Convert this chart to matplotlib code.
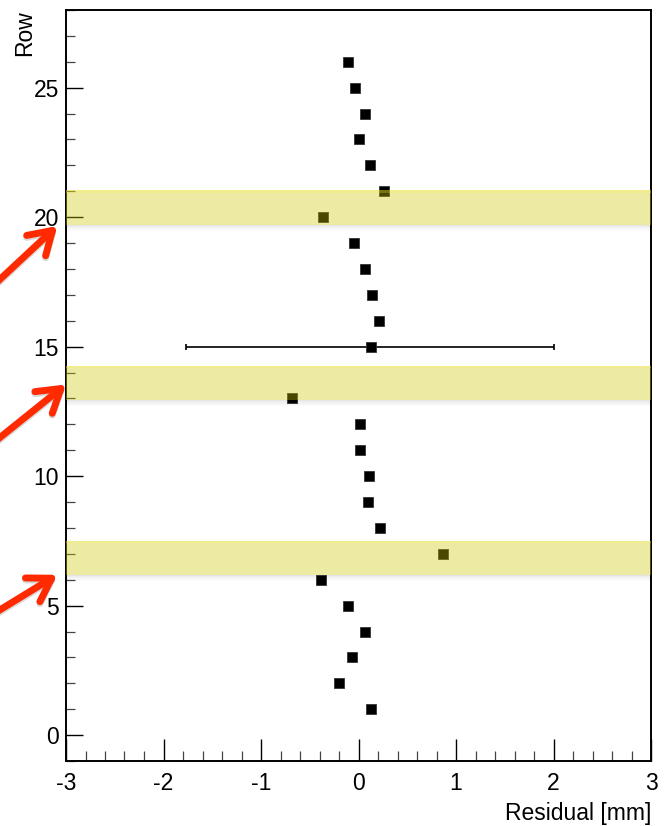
import matplotlib
matplotlib.use('Agg')
import matplotlib.pyplot as plt
from matplotlib.ticker import MultipleLocator
import matplotlib.patches as mpatches

plt.rcParams['font.family'] = ['Liberation Sans', 'DejaVu Sans']
plt.rcParams['axes.unicode_minus'] = False

# ---- data ----
rows = [26, 25, 24, 23, 22, 21, 20, 19, 18, 17, 16, 15, 13, 12, 11, 10, 9, 8, 7, 6, 5, 4, 3, 2, 1]
residuals = [-0.105, -0.036, 0.070, 0.002, 0.120, 0.260, -0.367, -0.043, 0.063, 0.141,
             0.207, 0.125, -0.686, 0.015, 0.012, 0.105, 0.097, 0.218, 0.863, -0.384,
             -0.108, 0.063, -0.067, -0.197, 0.132]
err_row = [15]
err_x = [0.125]
err_low = [1.894]
err_high = [1.880]

band_low = [19.71, 12.94, 6.19]
band_high = [21.03, 14.25, 7.51]

arrow_tip_x = [-3.09, -3.0, -3.09]
arrow_tip_y = [19.66, 13.54, 6.19]
arrow_tail_x = [-3.88, -3.88, -3.88]
arrow_tail_y = [16.89, 10.88, 4.37]

xticks = [-3, -2, -1, 0, 1, 2, 3]
yticks = [0, 5, 10, 15, 20, 25]

# ---- figure ----
W, H = 664, 826
fig = plt.figure(figsize=(W / 100, H / 100), dpi=100)
ax = fig.add_axes([66 / W, 65 / H, 585 / W, 751 / H])
ax.set_xlim(-3, 3)
ax.set_ylim(-1, 28)

ax.errorbar(err_x, err_row, xerr=[err_low, err_high], fmt='none', ecolor='black',
            elinewidth=1.2, capsize=2.5, capthick=1.2, zorder=2)
ax.plot(residuals, rows, linestyle='none', marker='s', markersize=7.2,
        markerfacecolor='black', markeredgecolor='#333333', markeredgewidth=0.6, zorder=3)

px = 1 / 25.84  # one pixel in row units
for lo, hi in zip(band_low, band_high):
    ax.add_patch(mpatches.Rectangle((-3, lo), 6, hi - lo, facecolor=(207 / 255, 200 / 255, 0),
                                    alpha=0.36, edgecolor='none', zorder=5))
    ax.add_patch(mpatches.Rectangle((-3, hi - 2 * px), 6, 2 * px, facecolor=(1, 0.95, 0.3),
                                    alpha=0.25, edgecolor='none', zorder=5))
    for k, a in enumerate([0.10, 0.07, 0.05, 0.03, 0.015]):
        ax.add_patch(mpatches.Rectangle((-3, lo - (k + 1) * 1.2 * px), 6, 1.2 * px,
                                        facecolor='black', alpha=a, edgecolor='none', zorder=5))

for tx, ty, sx, sy in zip(arrow_tip_x, arrow_tip_y, arrow_tail_x, arrow_tail_y):
    ax.annotate('', xy=(tx, ty - 2 * px), xytext=(sx, sy - 2 * px), annotation_clip=False,
                arrowprops=dict(arrowstyle='->, head_length=0.8, head_width=0.5',
                                color='black', alpha=0.15, lw=5.0, mutation_scale=20,
                                capstyle='round', joinstyle='round', shrinkA=0, shrinkB=0),
                zorder=6)
    ax.annotate('', xy=(tx, ty), xytext=(sx, sy), annotation_clip=False,
                arrowprops=dict(arrowstyle='->, head_length=0.8, head_width=0.5',
                                color='#ff2a00', lw=5.0, mutation_scale=20,
                                capstyle='round', joinstyle='round', shrinkA=0, shrinkB=0),
                zorder=7)

ax.set_xticks(xticks)
ax.set_xticklabels([str(v) for v in xticks])
ax.set_yticks(yticks)
ax.set_yticklabels([str(v) for v in yticks])
ax.xaxis.set_minor_locator(MultipleLocator(0.2))
ax.yaxis.set_minor_locator(MultipleLocator(1))

fs = 16.5
ax.tick_params(axis='x', which='major', direction='in', length=16, width=1.0, color='black',
               labelsize=fs, pad=8, top=False)
ax.tick_params(axis='x', which='minor', direction='in', length=7.5, width=0.9, color='#444444', top=False)
ax.tick_params(axis='y', which='major', direction='in', length=12.5, width=1.0, color='black',
               labelsize=fs, pad=5, right=False)
ax.tick_params(axis='y', which='minor', direction='in', length=6.5, width=0.9, color='#444444', right=False)

for s in ax.spines.values():
    s.set_linewidth(1.4)
    s.set_color('black')

ax.set_xlabel('Residual [mm]', loc='right', fontsize=fs, labelpad=5)
ax.set_ylabel('Row', loc='top', fontsize=fs)
ax.yaxis.set_label_coords(-0.051, 1.0)

fig.savefig('out.png', dpi=100)
